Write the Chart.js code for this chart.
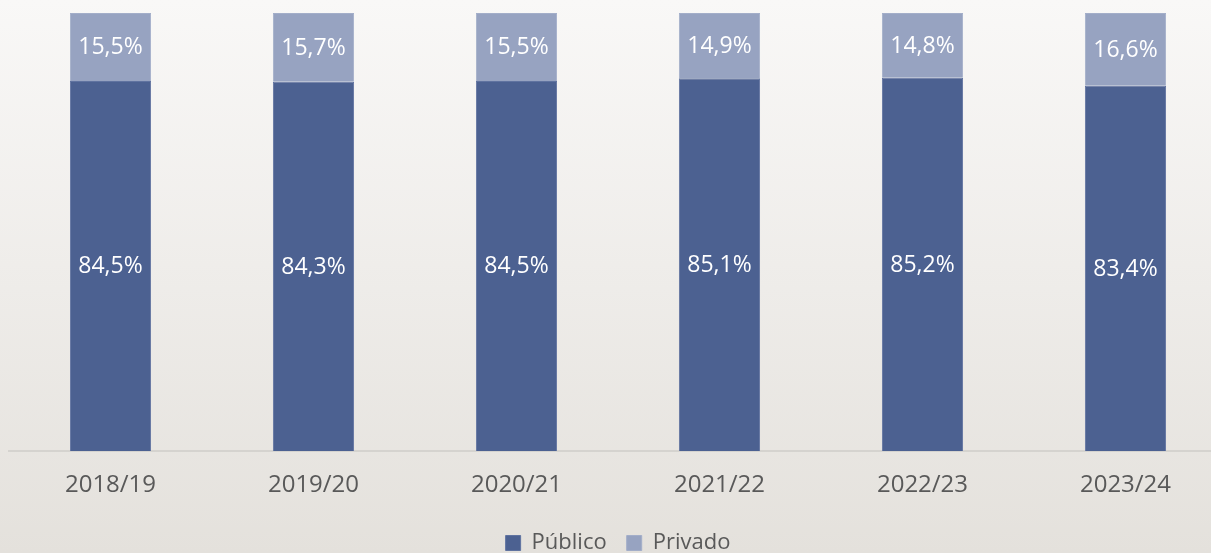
<!DOCTYPE html>
<html>
<head>
<meta charset="utf-8">
<script src="https://cdn.jsdelivr.net/npm/chart.js@4.4.1/dist/chart.umd.min.js"></script>
<style>
  html, body { margin: 0; padding: 0; width: 1211px; height: 553px; overflow: hidden; }
  body { background: linear-gradient(to bottom, #f9f8f7 0%, #e4e1dc 100%); }
  #wrap { width: 1211px; height: 553px; overflow: hidden; position: relative; }
  canvas { position: absolute; left: 0; top: 0; }
</style>
</head>
<body>
<div id="wrap"><canvas id="myChart" width="1236" height="553"></canvas></div>
<script>
const categories = ['2018/19', '2019/20', '2020/21', '2021/22', '2022/23', '2023/24'];
const publico = [84.5, 84.3, 84.5, 85.1, 85.2, 83.4];
const privado = [15.5, 15.7, 15.5, 14.9, 14.8, 16.6];

const fmt = v => v.toFixed(1).replace('.', ',') + '%';

// draws the white value label in the middle of every segment
const centerLabels = {
  id: 'centerLabels',
  afterDatasetsDraw(chart) {
    const ctx = chart.ctx;
    ctx.save();
    ctx.font = '23px "Open Sans"';
    ctx.fillStyle = '#ffffff';
    ctx.textAlign = 'center';
    ctx.textBaseline = 'middle';
    chart.data.datasets.forEach((ds, i) => {
      chart.getDatasetMeta(i).data.forEach((bar, j) => {
        const { x, y, base } = bar.getProps(['x', 'y', 'base'], true);
        ctx.fillText(fmt(ds.data[j]), x, (y + base) / 2 + 1);
      });
    });
    ctx.restore();
  }
};

const chart = new Chart(document.getElementById('myChart'), {
  type: 'bar',
  data: {
    labels: categories,
    datasets: [
      {
        label: 'Público',
        data: publico,
        backgroundColor: '#4c6191',
        borderColor: '#6073a0',
        borderWidth: 1,
        borderSkipped: 'bottom'
      },
      {
        label: 'Privado',
        data: privado,
        backgroundColor: '#97a3c1',
        borderColor: '#a3aec9',
        borderWidth: 1,
        borderSkipped: 'bottom'
      }
    ]
  },
  options: {
    responsive: false,
    animation: false,
    categoryPercentage: 1,
    barPercentage: 0.4,
    layout: { padding: { top: 13, left: 9, right: 9, bottom: -11 } },
    scales: {
      x: {
        stacked: true,
        grid: { display: false },
        border: { display: true, color: '#d5d3cf', width: 2 },
        ticks: { color: '#595959', font: { family: 'Open Sans', size: 24 }, padding: 12 },
        afterFit: s => { s.height = 61; }
      },
      y: {
        stacked: true,
        display: false,
        min: 0,
        max: 100
      }
    },
    plugins: {
      legend: {
        position: 'bottom',
        labels: {
          color: '#595959',
          font: { family: 'Open Sans', size: 22 },
          boxWidth: 15,
          boxHeight: 15,
          padding: 20
        }
      },
      tooltip: { enabled: false }
    }
  },
  plugins: [centerLabels]
});
</script>
</body>
</html>
